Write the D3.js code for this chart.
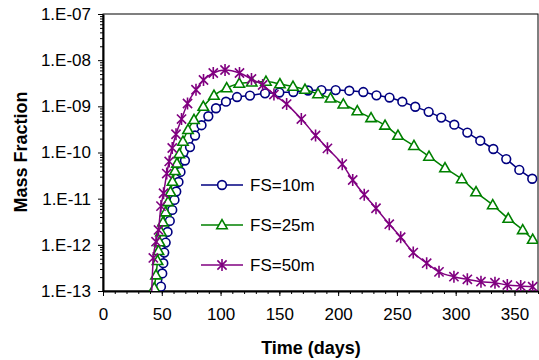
<!DOCTYPE html>
<html>
<head>
<meta charset="utf-8">
<script src="https://cdn.jsdelivr.net/npm/d3@7"></script>
<style>
  body { margin: 0; background: #fff; }
  svg text { font-family: Arial, "Liberation Sans", sans-serif; }
</style>
</head>
<body>
<div id="chart"></div>
<script>
// values (time in days, mass fraction)
const fs10Days = [46, 49.3, 50.4, 51.3, 52.1, 53.3, 54.9, 56.8, 58.9, 60.8, 62.3, 64.2, 65.9, 69.7, 74.0, 78.3, 83.8, 89.6, 96.1, 104.6, 114.0, 125.0, 137.8, 150.0, 161.9, 174.4, 185.8, 197.9, 209.5, 221.4, 232.6, 243.7, 254.6, 265.6, 277.0, 287.7, 298.8, 309.9, 320.9, 332.0, 343.0, 354.1, 365.1];
const fs10Mass = [1e-14, 1.24e-13, 2.4e-13, 4e-13, 6.8e-13, 1.12e-12, 1.9e-12, 3.3e-12, 5.7e-12, 9.4e-12, 1.43e-11, 2.3e-11, 3.8e-11, 6.7e-11, 1.31e-10, 2.33e-10, 3.9e-10, 6.1e-10, 9.1e-10, 1.26e-9, 1.59e-9, 1.71e-9, 1.91e-9, 1.99e-9, 2.04e-9, 2.2e-9, 2.25e-9, 2.25e-9, 2.18e-9, 2.04e-9, 1.73e-9, 1.55e-9, 1.26e-9, 9.8e-10, 7.6e-10, 5.7e-10, 4e-10, 2.7e-10, 1.8e-10, 1.19e-10, 7.2e-11, 4.2e-11, 2.7e-11];

const fs25Days = [38.3, 43.6, 45.1, 46.4, 47.2, 48.1, 49.3, 51.0, 53.2, 55.3, 57.4, 59.1, 61.2, 62.9, 64.9, 68.0, 72.3, 77.4, 85.3, 94.4, 105.2, 115.9, 126.5, 138.6, 150.5, 161.6, 171.8, 182.9, 193.5, 204.4, 216.3, 228.0, 239.9, 250.9, 264.5, 277.3, 290.9, 305.1, 317.3, 331.5, 344.7, 357.0, 365.5];
const fs25Mass = [1e-14, 1.16e-13, 2.2e-13, 4.5e-13, 7.4e-13, 1.15e-12, 1.9e-12, 3.1e-12, 5.1e-12, 8.5e-12, 1.39e-11, 2.35e-11, 4e-11, 5.8e-11, 9.3e-11, 1.73e-10, 3.1e-10, 5.1e-10, 9.9e-10, 1.71e-9, 2.49e-9, 3.12e-9, 3.31e-9, 3.45e-9, 3.04e-9, 2.69e-9, 2.31e-9, 1.85e-9, 1.49e-9, 1.11e-9, 7.9e-10, 5.6e-10, 3.85e-10, 2.33e-10, 1.4e-10, 8.2e-11, 4.6e-11, 2.67e-11, 1.39e-11, 7.3e-12, 3.7e-12, 2.1e-12, 1.3e-12];

const fs50Days = [40.1, 42.8, 45.1, 47.2, 49.3, 51.5, 54.2, 56.3, 58.9, 62.1, 66.8, 71.9, 79.1, 85.5, 93.8, 103.8, 116.1, 126.3, 135.8, 145.4, 156.2, 168.7, 180.8, 190.9, 203.5, 212.4, 222.2, 232.2, 243.5, 253.2, 263.9, 275.3, 285.8, 298.5, 309.9, 321.5, 333.4, 343.9, 355.3, 365.5];
const fs50Mass = [1e-14, 5.2e-13, 1.17e-12, 2.1e-12, 6.9e-12, 1.31e-11, 3.5e-11, 6.4e-11, 1.25e-10, 2.48e-10, 5.3e-10, 1.15e-9, 2.29e-9, 3.72e-9, 5.27e-9, 6.12e-9, 5.27e-9, 3.91e-9, 2.9e-9, 1.8e-9, 1.12e-9, 5.3e-10, 2.33e-10, 1.23e-10, 5.6e-11, 2.54e-11, 1.22e-11, 6.2e-12, 2.8e-12, 1.46e-12, 6.8e-13, 4e-13, 2.6e-13, 2.04e-13, 1.79e-13, 1.59e-13, 1.51e-13, 1.35e-13, 1.28e-13, 1.24e-13];

const seriesNames = ["FS=10m", "FS=25m", "FS=50m"];
const xTicks = [0, 50, 100, 150, 200, 250, 300, 350];
const yTicks = [1e-13, 1e-12, 1e-11, 1e-10, 1e-9, 1e-8, 1e-7];
const yTickLabels = ["1.E-13", "1.E-12", "1.E-11", "1.E-10", "1.E-09", "1.E-08", "1.E-07"];

const width = 539;
const height = 360;
const margin = { top: 14, right: 1, bottom: 69, left: 103 };
const plotW = width - margin.left - margin.right;
const plotH = height - margin.top - margin.bottom;

const series = [
  { name: seriesNames[0], days: fs10Days, mass: fs10Mass, color: "#000080", marker: "circle" },
  { name: seriesNames[1], days: fs25Days, mass: fs25Mass, color: "#008000", marker: "triangle" },
  { name: seriesNames[2], days: fs50Days, mass: fs50Mass, color: "#800080", marker: "star" }
];

const svg = d3.select("#chart")
  .append("svg")
  .attr("width", width)
  .attr("height", height);

const g = svg.append("g")
  .attr("transform", `translate(${margin.left},${margin.top})`);

const x = d3.scaleLinear().domain([0, 370]).range([0, plotW]);
const y = d3.scaleLog().domain([1e-13, 1e-7]).range([plotH, 0]);

g.append("defs").append("clipPath")
  .attr("id", "plot-clip")
  .append("rect")
  .attr("width", plotW)
  .attr("height", plotH);

// frame
g.append("rect")
  .attr("width", plotW)
  .attr("height", plotH)
  .attr("fill", "none")
  .attr("stroke", "#000")
  .attr("stroke-width", 1);

// minor y ticks (log)
const yMinor = [];
for (let e = -13; e < -7; e++) {
  for (let m = 2; m <= 9; m++) yMinor.push(m * Math.pow(10, e));
}
g.append("g")
  .call(d3.axisLeft(y).tickValues(yMinor).tickSize(3).tickFormat("").tickSizeOuter(0))
  .call(a => a.select(".domain").remove());

// minor x ticks
g.append("g")
  .attr("transform", `translate(0,${plotH})`)
  .call(d3.axisBottom(x).tickValues(d3.range(0, 371, 10)).tickSize(3).tickFormat("").tickSizeOuter(0))
  .call(a => a.select(".domain").remove());

// y axis
const yAxis = g.append("g")
  .call(d3.axisLeft(y).tickValues(yTicks).tickSize(5).tickSizeOuter(0)
    .tickFormat((d, i) => yTickLabels[i]));
yAxis.select(".domain").attr("stroke-width", 2);
yAxis.selectAll("text").attr("font-size", 17).attr("x", -12).attr("fill", "#000");

// x axis
const xAxis = g.append("g")
  .attr("transform", `translate(0,${plotH})`)
  .call(d3.axisBottom(x).tickValues(xTicks).tickSize(5).tickSizeOuter(0));
xAxis.select(".domain").attr("stroke-width", 2);
xAxis.selectAll("text").attr("font-size", 17).attr("y", 17).attr("fill", "#000");

// axis titles
svg.append("text")
  .attr("x", 311)
  .attr("y", 354)
  .attr("text-anchor", "middle")
  .attr("font-size", 18)
  .attr("font-weight", "bold")
  .text("Time (days)");

svg.append("text")
  .attr("transform", "translate(27,152) rotate(-90)")
  .attr("text-anchor", "middle")
  .attr("font-size", 18)
  .attr("font-weight", "bold")
  .text("Mass Fraction");

function markerPath(type) {
  if (type === "circle") return d3.symbol(d3.symbolCircle, 60)();
  if (type === "triangle") return "M0,-5.4L5.2,3.7L-5.2,3.7Z";
  // excel style star: vertical stroke plus an X
  return "M0,-6V6M-4.6,-4.6L4.6,4.6M-4.6,4.6L4.6,-4.6";
}

const line = d3.line()
  .x(d => x(d[0]))
  .y(d => y(d[1]))
  .curve(d3.curveMonotoneX);

const plot = g.append("g").attr("clip-path", "url(#plot-clip)");

series.forEach(s => {
  const pts = s.days.map((d, i) => [d, s.mass[i]]);
  plot.append("path")
    .datum(pts)
    .attr("fill", "none")
    .attr("stroke", s.color)
    .attr("stroke-width", 1.5)
    .attr("d", line);

  plot.selectAll(null)
    .data(pts)
    .enter()
    .append("path")
    .attr("transform", d => `translate(${x(d[0])},${y(d[1])})`)
    .attr("d", markerPath(s.marker))
    .attr("fill", s.marker === "star" ? "none" : "#fff")
    .attr("stroke", s.color)
    .attr("stroke-width", 1.6);
});

// legend
const legend = svg.append("g").attr("transform", "translate(201,185)");
series.forEach((s, i) => {
  const row = legend.append("g").attr("transform", `translate(0,${i * 40})`);
  row.append("line")
    .attr("x1", 0).attr("x2", 42)
    .attr("stroke", s.color)
    .attr("stroke-width", 1.5);
  row.append("path")
    .attr("transform", "translate(21,0)")
    .attr("d", markerPath(s.marker))
    .attr("fill", s.marker === "star" ? "none" : "#fff")
    .attr("stroke", s.color)
    .attr("stroke-width", 1.6);
  row.append("text")
    .attr("x", 49)
    .attr("dy", "0.35em")
    .attr("font-size", 17)
    .text(s.name);
});
</script>
</body>
</html>
